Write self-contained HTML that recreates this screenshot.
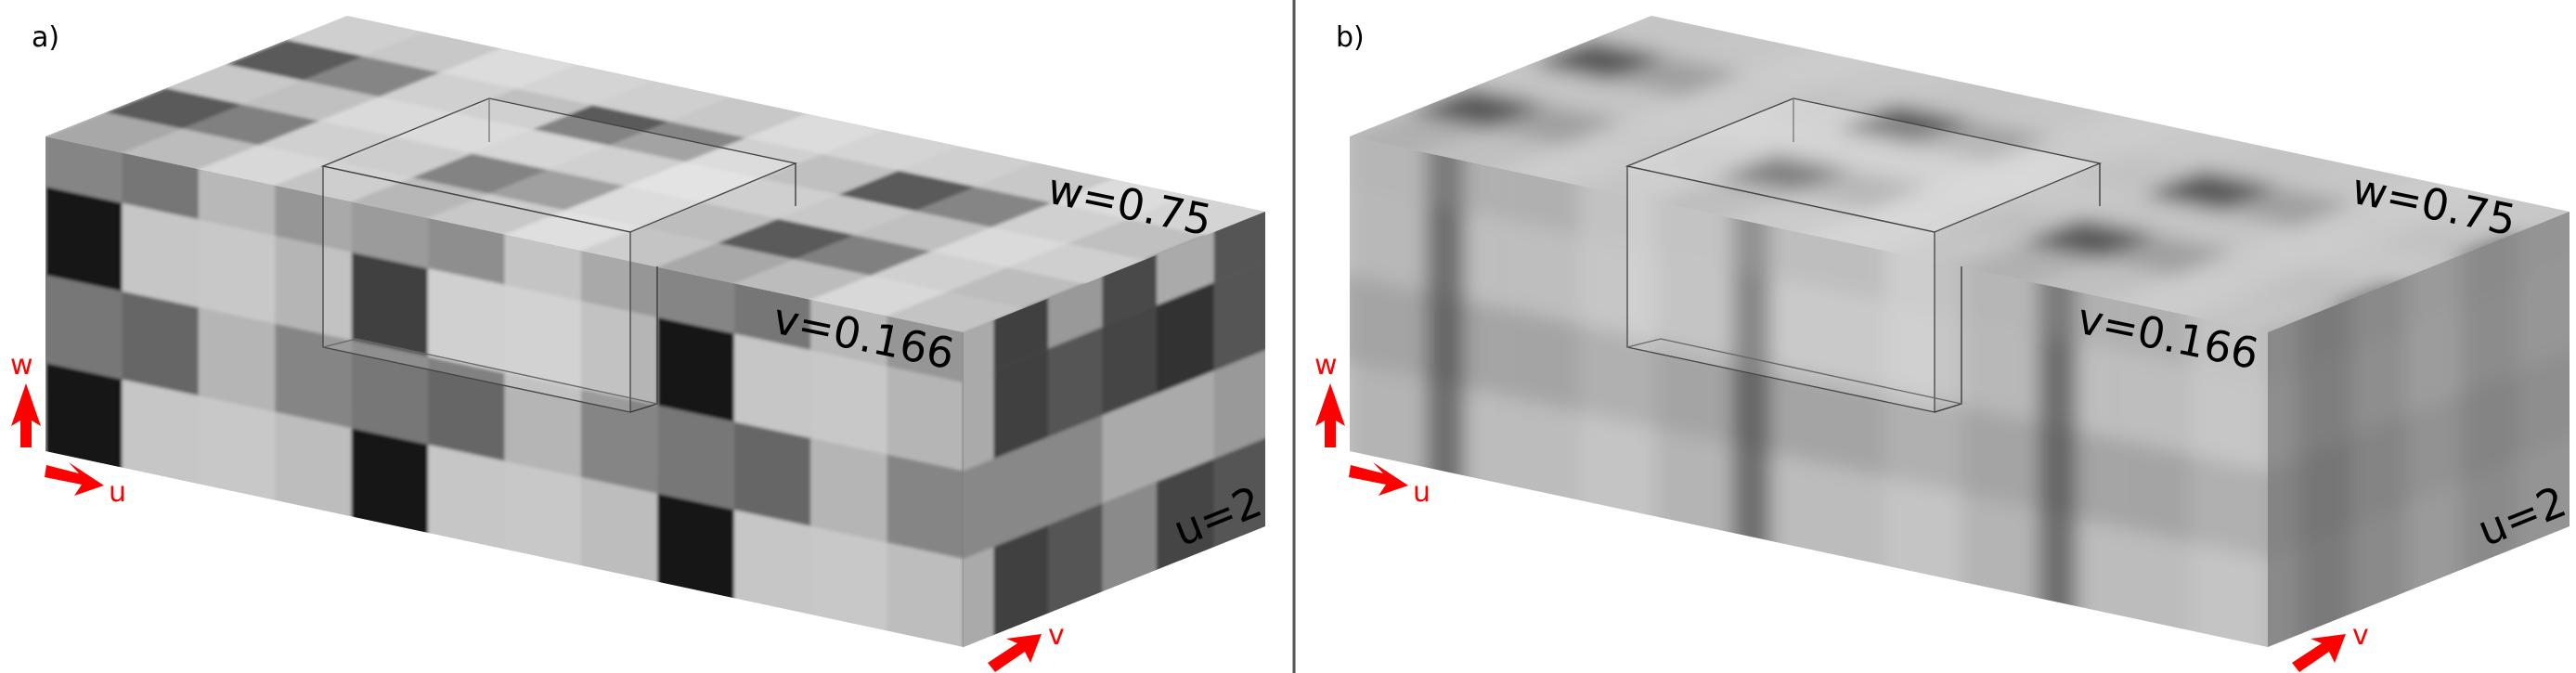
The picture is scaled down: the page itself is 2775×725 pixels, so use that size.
<!DOCTYPE html>
<html><head><meta charset="utf-8"><style>
html,body{margin:0;padding:0;background:#fff;}
svg{display:block;}
text{font-family:"DejaVu Sans","Liberation Sans",sans-serif;}
</style></head><body>
<svg id="fig" width="2775" height="725" viewBox="0 0 2775 725" xmlns="http://www.w3.org/2000/svg">
<defs>
<filter id="blurA" x="-5%" y="-5%" width="110%" height="110%"><feGaussianBlur stdDeviation="1.8"/></filter>
<filter id="blurB" x="-10%" y="-10%" width="120%" height="120%"><feGaussianBlur stdDeviation="10"/></filter>
</defs>
<line x1="1394" y1="0" x2="1394" y2="725" stroke="#555" stroke-width="3"/>
<g id="panelA"></g>
<g id="panelB"></g>
</svg>
<script>
// ---- data: grey levels of voxel cells ----
const frontRowsFrac = [0, 0.16, 0.44, 0.72, 1];
const rightColsFrac = [0, 0.1, 0.28, 0.46, 0.64, 0.83, 1];
const frontA = [
 ['#858585','#767676','#b8b8b8','#969696'],
 ['#151515','#c6c6c6','#c8c8c8','#b5b5b5'],
 ['#777777','#666666','#b5b5b5','#858585'],
 ['#151515','#c6c6c6','#c8c8c8','#bdbdbd']];
const topA = [
 ['#a8a8a8','#bcbcbc','#d8d8d8','#c4c4c4'],
 ['#5a5a5a','#808080','#d0d0d0','#bdbdbd'],
 ['#c8c8c8','#c0c0c0','#dadada','#cfcfcf'],
 ['#5a5a5a','#858585','#d0d0d0','#c0c0c0'],
 ['#cfcfcf','#c8c8c8','#dcdcdc','#d4d4d4']];
const rightA = [
 ['#aaaaaa','#404040','#999999','#4a4a4a','#aaaaaa','#555555'],
 ['#aaaaaa','#404040','#555555','#444444','#333333','#555555'],
 ['#888888','#888888','#888888','#aaaaaa','#aaaaaa','#999999'],
 ['#aaaaaa','#404040','#555555','#8a8a8a','#444444','#555555']];
const frontB = [
 ['#7a7a7a','#b0b0b0','#c2c2c2','#b6b6b6'],
 ['#6e6e6e','#bebebe','#c6c6c6','#b8b8b8'],
 ['#666666','#a4a4a4','#b0b0b0','#a4a4a4'],
 ['#6e6e6e','#bcbcbc','#c4c4c4','#b4b4b4']];
const topB = [
 ['#b0b0b0','#c0c0c0','#cccccc','#c4c4c4'],
 ['#5a5a5a','#a0a0a0','#cacaca','#c0c0c0'],
 ['#c4c4c4','#c4c4c4','#cccccc','#c8c8c8'],
 ['#5a5a5a','#a0a0a0','#cacaca','#c2c2c2'],
 ['#c4c4c4','#c6c6c6','#cccccc','#c8c8c8']];
const rightB = [
 ['#8a8a8a','#7a7a7a','#8a8a8a','#9a9a9a','#8a8a8a','#949494'],
 ['#8e8e8e','#7e7e7e','#8e8e8e','#9c9c9c','#8c8c8c','#969696'],
 ['#848484','#767676','#848484','#929292','#848484','#8e8e8e'],
 ['#8a8a8a','#7a7a7a','#8a8a8a','#9a9a9a','#8a8a8a','#949494']];

const NS='http://www.w3.org/2000/svg';
const U=[989,211], V=[325,-130], H=339, NU=12, NV=5;
function mk(tag, attrs, parent){const e=document.createElementNS(NS,tag);for(const k in attrs)e.setAttribute(k,attrs[k]);parent.appendChild(e);return e;}
function pts(a){return a.map(p=>p[0].toFixed(1)+','+p[1].toFixed(1)).join(' ');}

function buildPanel(g, ox, front, top, right, blurId, shiftB){
  const O=[49+ox,147];
  const F=(a,t)=>[O[0]+U[0]*a/NU, O[1]+U[1]*a/NU+H*t];
  const T=(a,b)=>[O[0]+U[0]*a/NU+V[0]*b/NV, O[1]+U[1]*a/NU+V[1]*b/NV];
  const R=(b,t)=>[O[0]+U[0]+V[0]*b, O[1]+U[1]+V[1]*b+H*t];
  const faces=[
    {name:'front-face', poly:[F(0,0),F(NU,0),F(NU,1),F(0,1)]},
    {name:'top-face', poly:[T(0,0),T(NU,0),T(NU,NV),T(0,NV)]},
    {name:'right-face', poly:[R(0,0),R(1,0),R(1,1),R(0,1)]}];
  faces.forEach((f,i)=>{
    const cp=mk('clipPath',{id:'cp'+ox+'_'+i},g);
    mk('polygon',{points:pts(f.poly)},cp);
    const outer=mk('g',{'clip-path':'url(#cp'+ox+'_'+i+')'},g);
    
    
    mk('polygon',{points:pts(f.poly),fill:i==2?'#8a8a8a':'#b8b8b8'},outer);
    const inner=mk('g',{filter:'url(#'+blurId+')'},outer);
    if(i===0){
      for(let r=0;r<4;r++)for(let c=-1;c<=NU;c++){
        const t0=frontRowsFrac[r]-(r===0?0.1:0), t1=frontRowsFrac[r+1]+(r===3?0.1:0);
        const cc=((c-shiftB)%4+4)%4;
        const w=(shiftB&&cc===0)?0.5:1;
        const p=mk('polygon',{points:pts([F(c,t0),F(c+w,t0),F(c+w,t1),F(c,t1)]),fill:front[r][cc]},inner);
        
        
        if(w<1){
          const q=mk('polygon',{points:pts([F(c+w,t0),F(c+1,t0),F(c+1,t1),F(c+w,t1)]),fill:front[r][1]},inner);
          
          
        }
      }
    } else if(i===1){
      for(let b=-1;b<=NV;b++)for(let c=-1;c<=NU;c++){
        const bb=Math.min(Math.max(b,0),4);
        const cc=((c%4)+4)%4;
        const p=mk('polygon',{points:pts([T(c,b),T(c+1,b),T(c+1,b+1),T(c,b+1)]),fill:top[bb][cc]},inner);
        
        
      }
    } else {
      for(let r=0;r<4;r++)for(let c=0;c<6;c++){
        const t0=frontRowsFrac[r]-(r===0?0.1:0), t1=frontRowsFrac[r+1]+(r===3?0.1:0);
        const b0=rightColsFrac[c]-(c===0?0.1:0), b1=rightColsFrac[c+1]+(c===5?0.1:0);
        const p=mk('polygon',{points:pts([R(b0,t0),R(b1,t0),R(b1,t1),R(b0,t1)]),fill:right[r][c]},inner);
        
        
      }
    }
  });
  const bx=mk('g',{fill:'none',stroke:'#333','stroke-width':'1.3'},g);
  
  
  const S=(x,y)=>[x+ox,y];
  mk('polygon',{points:pts([S(348,179),S(527,106),S(857,176),S(679,250)]),fill:'rgba(255,255,255,0.25)',stroke:'#444'},bx);
  mk('polygon',{points:pts([S(348,179),S(679,250),S(679,444),S(348,374)]),fill:'rgba(255,255,255,0.18)',stroke:'#444'},bx);
  mk('polyline',{points:pts([S(527,106),S(527,153)]),stroke:'#777'},bx);
  mk('polyline',{points:pts([S(857,176),S(857,222)])},bx);
  mk('polyline',{points:pts([S(708,287),S(708,435),S(679,444)])},bx);
  mk('polyline',{points:pts([S(348,374),S(384,365),S(708,435)]),stroke:'#666'},bx);
}
buildPanel(document.getElementById('panelA'),0,frontA,topA,rightA,'blurA',0);
buildPanel(document.getElementById('panelB'),1405,frontB,topB,rightB,'blurB',1);
</script>
<svg style="position:absolute;left:0;top:0" width="2775" height="725" viewBox="0 0 2775 725">
<g>
<text x="34" y="50" font-size="30" fill="#000">a)</text>
<text x="1216" y="236" font-size="46" text-anchor="middle" transform="rotate(11.6 1216 225)">w=0.75</text>
<text x="930" y="378" font-size="46" text-anchor="middle" transform="rotate(11.6 930 365)">v=0.166</text>
<text x="1312" y="572" font-size="46" text-anchor="middle" transform="rotate(-21.8 1312 557)">u=2</text>
<text x="11" y="403" font-size="30" fill="#f00">w</text>
<polygon fill="#f00" points="28,413 44,459 34,453 34,482 22,482 22,453 12,459"/>
<polygon fill="#f00" points="50,501 85,510 74,498 112,523 80,534 88,522 48,514"/>
<text x="117" y="540" font-size="30" fill="#f00">u</text>
<polygon fill="#f00" points="1122,683 1110,714 1104,702 1072,724 1064,714 1096,693 1084,688"/>
<text x="1129" y="694" font-size="30" fill="#f00">v</text>
</g>
<g transform="translate(1405,0)">
<text x="34" y="50" font-size="30" fill="#000">b)</text>
<text x="1216" y="236" font-size="46" text-anchor="middle" transform="rotate(11.6 1216 225)">w=0.75</text>
<text x="930" y="378" font-size="46" text-anchor="middle" transform="rotate(11.6 930 365)">v=0.166</text>
<text x="1312" y="572" font-size="46" text-anchor="middle" transform="rotate(-21.8 1312 557)">u=2</text>
<text x="11" y="403" font-size="30" fill="#f00">w</text>
<polygon fill="#f00" points="28,413 44,459 34,453 34,482 22,482 22,453 12,459"/>
<polygon fill="#f00" points="50,501 85,510 74,498 112,523 80,534 88,522 48,514"/>
<text x="117" y="540" font-size="30" fill="#f00">u</text>
<polygon fill="#f00" points="1122,683 1110,714 1104,702 1072,724 1064,714 1096,693 1084,688"/>
<text x="1129" y="694" font-size="30" fill="#f00">v</text>
</g>
</svg>
</body></html>
